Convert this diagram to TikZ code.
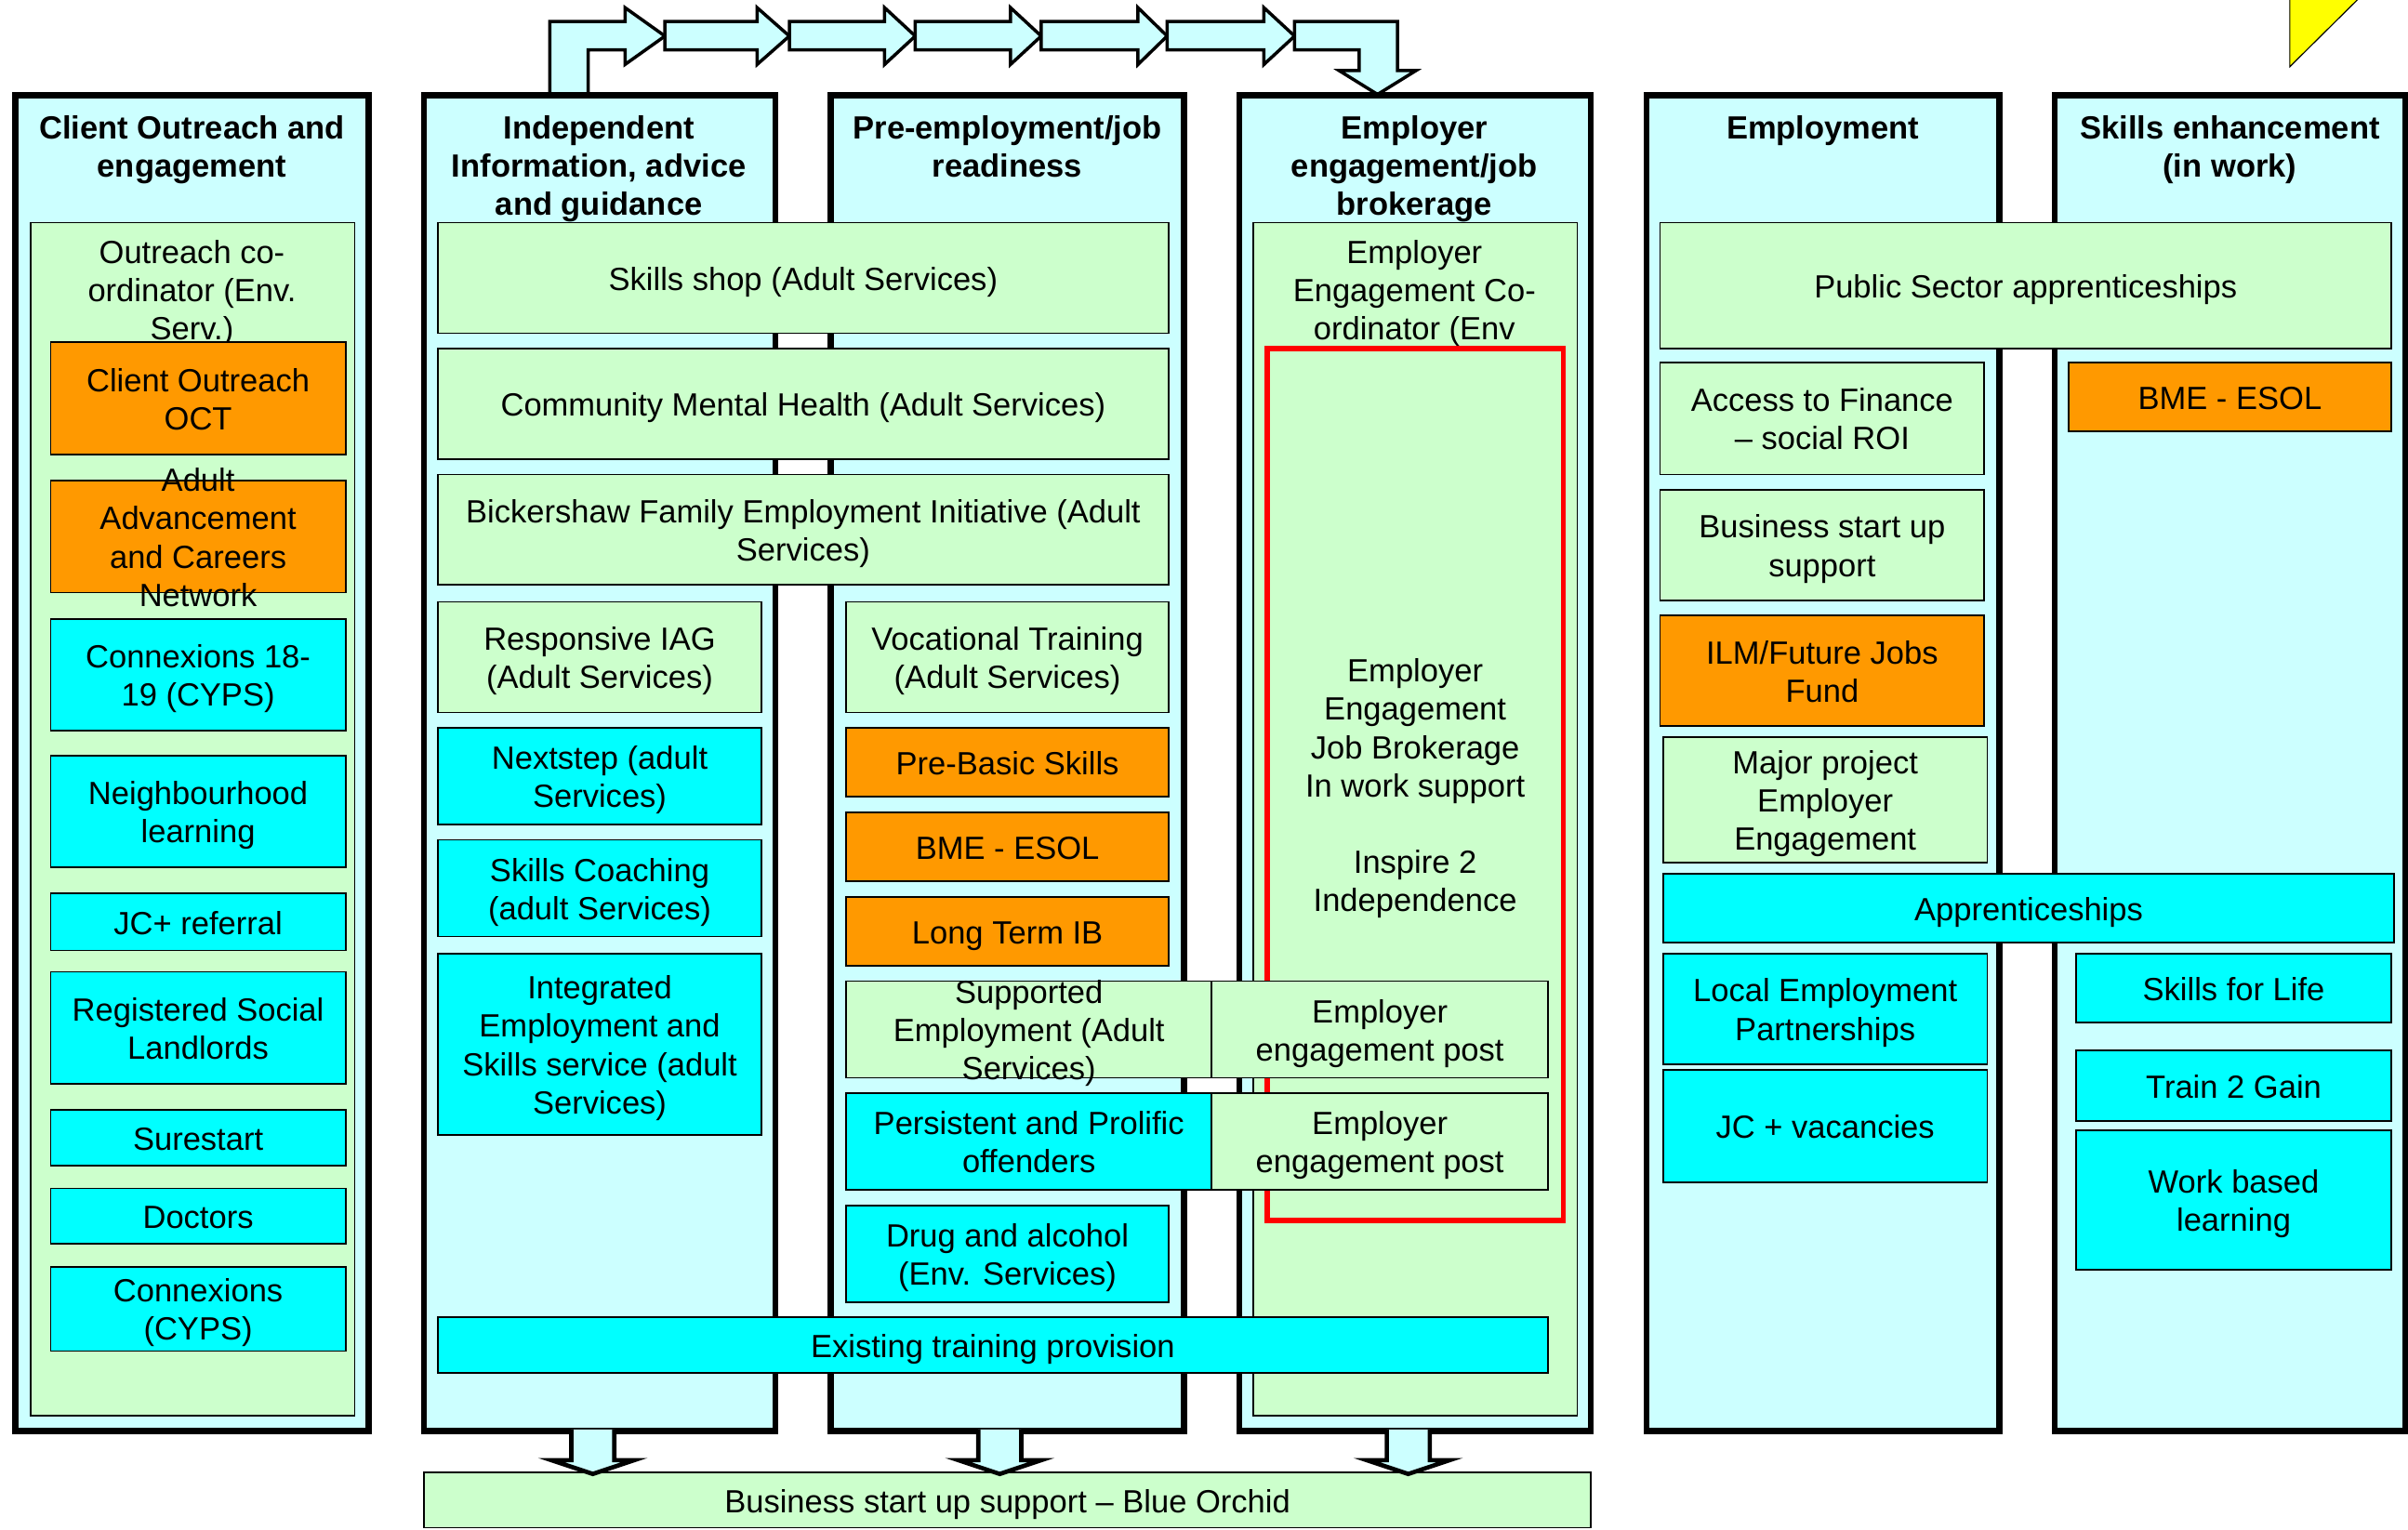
\documentclass[tikz,border=0pt]{standalone}
\usepackage{fontspec}
\setmainfont{Liberation Sans}
\definecolor{colbg}{HTML}{CCFFFF}
\definecolor{grn}{HTML}{CCFFCC}
\definecolor{cyn}{HTML}{00FFFF}
\definecolor{org}{HTML}{FF9900}
\definecolor{yel}{HTML}{FFFF00}
\tikzset{
 boxbase/.style={draw=black, rectangle, inner sep=0pt},
 colbox/.style={boxbase, fill=colbg, line width=2.2pt},
 gbox/.style={boxbase, fill=grn, line width=0.6pt},
 cbox/.style={boxbase, fill=cyn, line width=0.6pt},
 obox/.style={boxbase, fill=org, line width=0.6pt},
 redbox/.style={boxbase, fill=grn, draw=red, line width=2pt},
 lbl/.style={inner sep=0pt, align=center, font=\fontsize{11.9}{14.2}\selectfont},
 hdr/.style={inner sep=0pt, align=center, font=\fontsize{11.9}{14.2}\selectfont\bfseries},
 blockarrow/.style={fill=colbg, draw=black, line width=1.2pt, line join=miter},
}
% box node (#1) with its text node (#1t)
\newcommand\bx[7]{%
  \node[#2, minimum width={(#5-#3)*0.02cm}, minimum height={(#6-#4)*0.02cm}] (#1) at ({(#3+#5)/2},{(#4+#6)/2}) {};
  \node[lbl] (#1t) at ({(#3+#5)/2},{(#4+#6)/2+3}) {\strut #7\strut};}
\begin{document}
\begin{tikzpicture}[x=0.02cm,y=-0.02cm]
\useasboundingbox (0,0) rectangle (1568,996);
\fill[white] (0,0) rectangle (1568,996);
% yellow triangle
\filldraw[fill=yel, draw=black, line width=0.4pt] (1491,-10) -- (1491,43.5) -- (1545,-10) -- cycle;
% top block arrows
\draw[blockarrow] (358,64) -- (358,14) -- (407,14) -- (407,5) -- (433,23.5) -- (407,42) -- (407,32.5) -- (383,32.5) -- (383,64) -- cycle;
\foreach \s/\b/\t in {433/493/514, 514/576/596, 596/658/678, 678/741/760, 760/823/843}
  \draw[blockarrow] (\s,14) -- (\b,14) -- (\b,5) -- (\t,23.5) -- (\b,42) -- (\b,32.5) -- (\s,32.5) -- cycle;
\draw[blockarrow] (843,14) -- (910,14) -- (910,46) -- (922,46) -- (897,61.5) -- (872,46) -- (885,46) -- (885,32.5) -- (843,32.5) -- cycle;
% columns
\bx{c1}{colbox}{10}{62}{240}{932}{}
\bx{c2}{colbox}{276}{62}{505}{932}{}
\bx{c3}{colbox}{541}{62}{771}{932}{}
\bx{c4}{colbox}{807}{62}{1036}{932}{}
\bx{c5}{colbox}{1072}{62}{1302}{932}{}
\bx{c6}{colbox}{1338}{62}{1566}{932}{}
% headers
\node[hdr] (h1) at (125,98) {\strut Client Outreach and\\engagement\strut};
\node[hdr] (h2) at (390,110.5) {\strut Independent\\Information, advice\\and guidance\strut};
\node[hdr] (h3) at (656,98) {\strut Pre-employment/job\\readiness\strut};
\node[hdr] (h4) at (921,110.5) {\strut Employer\\engagement/job\\brokerage\strut};
\node[hdr] (h5) at (1187,85.5) {\strut Employment\strut};
\node[hdr] (h6) at (1452,98) {\strut Skills enhancement\\(in work)\strut};
% column 1
\bx{g1}{gbox}{20}{145}{231}{922}{}
\node[lbl] (t1) at (125,191.5) {\strut Outreach co-\\ordinator (Env.\\Serv.)\strut};
\bx{oct}{obox}{33}{223}{225}{296}{Client Outreach\\OCT}
\bx{aacn}{obox}{33}{313}{225}{386}{Adult\\Advancement\\and Careers\\Network}
\bx{cx1}{cbox}{33}{403}{225}{476}{Connexions 18-\\19 (CYPS)}
\bx{nl}{cbox}{33}{492}{225}{565}{Neighbourhood\\learning}
\bx{jc}{cbox}{33}{582}{225}{619}{JC+ referral}
\bx{rsl}{cbox}{33}{633}{225}{706}{Registered Social\\Landlords}
\bx{ss}{cbox}{33}{723}{225}{759}{Surestart}
\bx{doc}{cbox}{33}{774}{225}{810}{Doctors}
\bx{cx2}{cbox}{33}{825}{225}{880}{Connexions\\(CYPS)}
% column 4
\bx{g4}{gbox}{816}{145}{1027}{922}{}
\node[lbl] (t4) at (921,191.5) {\strut Employer\\Engagement Co-\\ordinator (Env\strut};
\bx{rb}{redbox}{825}{227}{1018}{795}{Employer\\Engagement\\Job Brokerage\\In work support\\[14.2pt]Inspire 2\\Independence}
% wide boxes columns 2-3
\bx{shop}{gbox}{285}{145}{761}{217}{Skills shop (Adult Services)}
\bx{cmh}{gbox}{285}{227}{761}{299}{Community Mental Health (Adult Services)}
\bx{bick}{gbox}{285}{309}{761}{381}{Bickershaw Family Employment Initiative (Adult\\Services)}
% column 2
\bx{iag}{gbox}{285}{392}{496}{464}{Responsive IAG\\(Adult Services)}
\bx{next}{cbox}{285}{474}{496}{537}{Nextstep (adult\\Services)}
\bx{coach}{cbox}{285}{547}{496}{610}{Skills Coaching\\(adult Services)}
\bx{ies}{cbox}{285}{621}{496}{739}{Integrated\\Employment and\\Skills service (adult\\Services)}
% column 3
\bx{voc}{gbox}{551}{392}{761}{464}{Vocational Training\\(Adult Services)}
\bx{pbs}{obox}{551}{474}{761}{519}{Pre-Basic Skills}
\bx{bme1}{obox}{551}{529}{761}{574}{BME - ESOL}
\bx{ltib}{obox}{551}{584}{761}{629}{Long Term IB}
\bx{sup}{gbox}{551}{639}{789}{702}{Supported\\Employment (Adult\\Services)}
\bx{ep1}{gbox}{789}{639}{1008}{702}{Employer\\engagement post}
\bx{ppo}{cbox}{551}{712}{789}{775}{Persistent and Prolific\\offenders}
\bx{ep2}{gbox}{789}{712}{1008}{775}{Employer\\engagement post}
\bx{drug}{cbox}{551}{785}{761}{848}{Drug and alcohol\\(Env. Services)}
\bx{etp}{cbox}{285}{858}{1008}{894}{Existing training provision}
\bx{orchid}{gbox}{276}{959}{1036}{995}{Business start up support – Blue Orchid}
% columns 5-6
\bx{psa}{gbox}{1081}{145}{1557}{227}{Public Sector apprenticeships}
\bx{atf}{gbox}{1081}{236}{1292}{309}{Access to Finance\\– social ROI}
\bx{bsu}{gbox}{1081}{319}{1292}{391}{Business start up\\support}
\bx{ilm}{obox}{1081}{401}{1292}{473}{ILM/Future Jobs\\Fund}
\bx{mpe}{gbox}{1083}{480}{1294}{562}{Major project\\Employer\\Engagement}
\bx{app}{cbox}{1083}{569}{1559}{614}{Apprenticeships}
\bx{lep}{cbox}{1083}{621}{1294}{693}{Local Employment\\Partnerships}
\bx{jcv}{cbox}{1083}{697}{1294}{770}{JC + vacancies}
\bx{bme2}{obox}{1347}{236}{1557}{281}{BME - ESOL}
\bx{sfl}{cbox}{1352}{621}{1557}{666}{Skills for Life}
\bx{t2g}{cbox}{1352}{684}{1557}{730}{Train 2 Gain}
\bx{wbl}{cbox}{1352}{736}{1557}{827}{Work based\\learning}
% bottom arrows
\foreach \c in {386,651,917}
  \draw[blockarrow, line width=1.6pt] ({\c-14},931) -- ({\c-14},951) -- ({\c-27},951) -- (\c,960) -- ({\c+27},951) -- ({\c+14},951) -- ({\c+14},931);
\end{tikzpicture}
\end{document}
